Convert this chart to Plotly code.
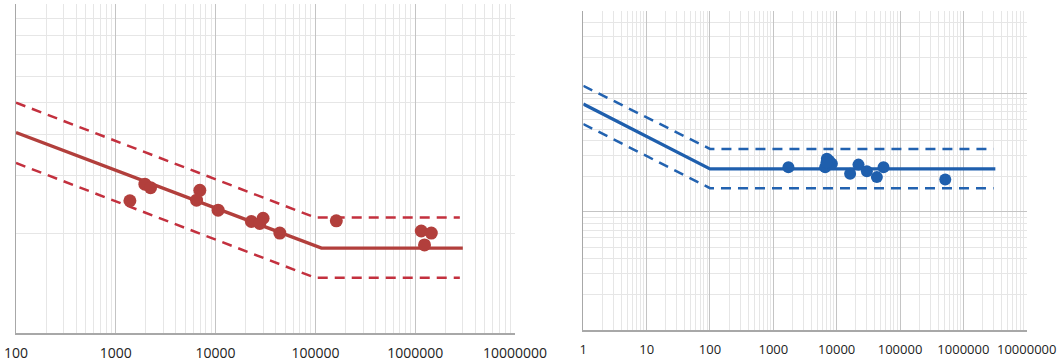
import math
import plotly.graph_objects as go

# ---------------- Data ----------------
# Left panel (red)
left_pts_x = [1384, 1955, 2230, 6950, 6440, 10600, 22800, 29900, 27700, 44000, 162000, 1150000, 1450000, 1240000]
left_pts_y = [2.52, 2.83, 2.76, 2.71, 2.53, 2.36, 2.18, 2.23, 2.15, 2.01, 2.19, 2.04, 2.01, 1.85]
left_fit_x = [100, 115000, 3000000]
left_fit_y = [4.06, 1.81, 1.81]
left_up_x = [100, 100000, 2800000]
left_up_y = [5.0, 2.24, 2.24]
left_lo_x = [100, 100000, 2800000]
left_lo_y = [3.28, 1.47, 1.47]

# Right panel (blue)
right_pts_x = [1730, 7000, 6580, 8400, 7600, 6900, 16300, 22100, 30000, 43100, 54900, 518000]
right_pts_y = [23.8, 28.0, 23.8, 25.4, 27.0, 26.0, 20.9, 25.0, 22.0, 19.6, 23.8, 18.7]
right_fit_x = [1, 100, 3200000]
right_fit_y = [81.3, 23.0, 23.0]
right_up_x = [1, 100, 3000000]
right_up_y = [115.9, 33.9, 33.9]
right_lo_x = [1, 100, 3000000]
right_lo_y = [55.1, 15.8, 15.8]

left_ticks = [100, 1000, 10000, 100000, 1000000, 10000000]
right_ticks = [1, 10, 100, 1000, 10000, 100000, 1000000, 10000000]

RED = "#B23F3C"
RED_D = "#C3303E"
BLUE = "#1F5FAD"
BLUE_D = "#2262B0"

W, H = 1058, 362

fig = go.Figure()

# left
fig.add_trace(go.Scatter(x=left_up_x, y=left_up_y, mode="lines",
                         line=dict(color=RED_D, width=2.5, dash="10px,7px"), xaxis="x", yaxis="y"))
fig.add_trace(go.Scatter(x=left_lo_x, y=left_lo_y, mode="lines",
                         line=dict(color=RED_D, width=2.5, dash="10px,7px"), xaxis="x", yaxis="y"))
fig.add_trace(go.Scatter(x=left_fit_x, y=left_fit_y, mode="lines",
                         line=dict(color=RED, width=3.4), xaxis="x", yaxis="y"))
fig.add_trace(go.Scatter(x=left_pts_x, y=left_pts_y, mode="markers",
                         marker=dict(color=RED, size=13, line=dict(width=0)), xaxis="x", yaxis="y"))

# right
fig.add_trace(go.Scatter(x=right_up_x, y=right_up_y, mode="lines",
                         line=dict(color=BLUE_D, width=2.5, dash="10px,7px"), xaxis="x2", yaxis="y2"))
fig.add_trace(go.Scatter(x=right_lo_x, y=right_lo_y, mode="lines",
                         line=dict(color=BLUE_D, width=2.5, dash="10px,7px"), xaxis="x2", yaxis="y2"))
fig.add_trace(go.Scatter(x=right_fit_x, y=right_fit_y, mode="lines",
                         line=dict(color=BLUE, width=3.2), xaxis="x2", yaxis="y2"))
fig.add_trace(go.Scatter(x=right_pts_x, y=right_pts_y, mode="markers",
                         marker=dict(color=BLUE, size=12, line=dict(width=0)), xaxis="x2", yaxis="y2"))

MAJ = "#c4c4c4"
MIN = "#e6e6e6"
AX = "#a8a8a8"

def xaxis_cfg(domain, rng, ticks, size):
    return dict(type="log", domain=domain, range=rng, tickvals=ticks,
                ticktext=[str(t) for t in ticks], showgrid=True, gridcolor=MAJ, gridwidth=1,
                minor=dict(dtick="D1", showgrid=True, gridcolor=MIN, gridwidth=1),
                showline=True, linecolor=AX, linewidth=1.5, zeroline=False,
                ticks="", ticklabelstandoff=7, automargin=False,
                tickfont=dict(family="Open Sans", size=size, color="#222222"))

def yaxis_cfg(domain, rng):
    return dict(type="log", domain=domain, range=rng, dtick=1,
                showgrid=True, gridcolor=MAJ, gridwidth=1,
                minor=dict(dtick="D1", showgrid=True, gridcolor=MIN, gridwidth=1),
                showline=True, linecolor=AX, linewidth=1.5, zeroline=False,
                showticklabels=False, ticks="", automargin=False)

xa = xaxis_cfg([16 / W, 515 / W], [2, 7], left_ticks, 14)
xa["anchor"] = "y"
xb = xaxis_cfg([583.3 / W, 1026.7 / W], [0, 7], right_ticks, 13)
xb["anchor"] = "y2"
ya = yaxis_cfg([(H - 333) / H, (H - 3.5) / H], [0, 1])
ya["anchor"] = "x"
yb = yaxis_cfg([(H - 330) / H, (H - 10.7) / H], [0, math.log10(500)])
yb["anchor"] = "x2"

fig.update_layout(
    width=W, height=H,
    margin=dict(l=0, r=0, t=0, b=0, pad=0, autoexpand=False),
    paper_bgcolor="white", plot_bgcolor="white",
    showlegend=False, hovermode=False,
    xaxis=xa, yaxis=ya, xaxis2=xb, yaxis2=yb,
)

fig.write_html("out.html",
               config={"displayModeBar": False, "staticPlot": True},
               post_script="document.body.style.margin='0px';document.body.style.overflow='hidden';")
